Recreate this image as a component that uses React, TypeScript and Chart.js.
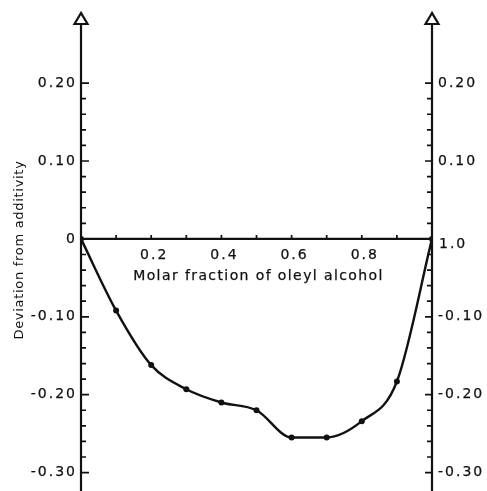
import React, { useEffect, useRef } from "react";
import { Chart, registerables } from "chart.js";

Chart.register(...registerables);

// Molar fraction of oleyl alcohol and the measured deviation from additivity
const molarFraction = [0, 0.1, 0.2, 0.3, 0.4, 0.5, 0.6, 0.7, 0.8, 0.9, 1.0];
const deviation = [0, -0.092, -0.162, -0.193, -0.21, -0.22, -0.255, -0.255, -0.234, -0.183, 0];

// Axis tick labels
const yTickValues = [0.2, 0.1, 0, -0.1, -0.2, -0.3];
const yTickLabelsLeft = ["0.20", "0.10", "0", "-0.10", "-0.20", "-0.30"];
const yTickLabelsRight = ["0.20", "0.10", "", "-0.10", "-0.20", "-0.30"];
const xTickValues = [0.2, 0.4, 0.6, 0.8];
const xTickLabels = ["0.2", "0.4", "0.6", "0.8"];
const xEndLabel = "1.0";

const xTitle = "Molar fraction of oleyl alcohol";
const yTitle = "Deviation from additivity";

const INK = "#111111";
const FONT = "'DejaVu Sans', sans-serif";

// filled text with a hairline outline so the lettering reads a little heavier
function heavyText(ctx: CanvasRenderingContext2D, text: string, x: number, y: number) {
  ctx.fillText(text, x, y);
  ctx.strokeText(text, x, y);
}

const axesPlugin = {
  id: "framedAxes",
  beforeDatasetsDraw(chart: any) {
    const { ctx, chartArea, scales } = chart;
    const xs = scales.x;
    const ys = scales.y;
    const left = xs.getPixelForValue(0);
    const right = xs.getPixelForValue(1);
    const zero = ys.getPixelForValue(0);
    const tipY = chartArea.top;
    const baseY = tipY + 11;
    const bottom = chart.height;

    ctx.save();
    ctx.strokeStyle = INK;
    ctx.fillStyle = INK;
    ctx.lineWidth = 2.2;
    ctx.lineCap = "butt";

    // vertical axes and horizontal axis
    ctx.beginPath();
    ctx.moveTo(left, baseY);
    ctx.lineTo(left, bottom);
    ctx.moveTo(right, baseY);
    ctx.lineTo(right, bottom);
    ctx.moveTo(left, zero);
    ctx.lineTo(right, zero);
    ctx.stroke();

    // open arrow heads
    for (const ax of [left, right]) {
      ctx.beginPath();
      ctx.moveTo(ax, tipY);
      ctx.lineTo(ax - 6.5, baseY);
      ctx.lineTo(ax + 6.5, baseY);
      ctx.closePath();
      ctx.fillStyle = "#ffffff";
      ctx.fill();
      ctx.stroke();
    }
    ctx.fillStyle = INK;

    // y tick marks every 0.02, pointing inward
    ctx.lineWidth = 1.7;
    ctx.beginPath();
    for (let k = -15; k <= 10; k++) {
      if (k === 0) continue;
      const v = k * 0.02;
      const py = ys.getPixelForValue(v);
      const major = k % 5 === 0;
      ctx.moveTo(left, py);
      ctx.lineTo(left + (major ? 8 : 5), py);
      ctx.moveTo(right, py);
      ctx.lineTo(right - (major ? 7 : 5), py);
    }
    // x tick marks every 0.1, pointing up
    for (let k = 1; k <= 9; k++) {
      const px = xs.getPixelForValue(k / 10);
      ctx.moveTo(px, zero);
      ctx.lineTo(px, zero - 4);
    }
    ctx.stroke();

    ctx.lineWidth = 0.25;

    // y tick labels
    ctx.font = `14px ${FONT}`;
    (ctx as any).letterSpacing = "2px";
    ctx.textBaseline = "middle";
    yTickValues.forEach((v, i) => {
      const py = ys.getPixelForValue(v);
      ctx.textAlign = "right";
      heavyText(ctx, yTickLabelsLeft[i], left - 4, py);
      if (yTickLabelsRight[i]) {
        ctx.textAlign = "left";
        heavyText(ctx, yTickLabelsRight[i], right + 6, py);
      }
    });
    ctx.textAlign = "left";
    heavyText(ctx, xEndLabel, right + 7, zero + 5);

    // x tick labels
    ctx.textAlign = "center";
    xTickValues.forEach((v, i) => {
      heavyText(ctx, xTickLabels[i], xs.getPixelForValue(v) + 3, zero + 16);
    });

    // x title
    (ctx as any).letterSpacing = "1.4px";
    heavyText(ctx, xTitle, (left + right) / 2 + 2, zero + 37);

    // y title
    (ctx as any).letterSpacing = "0.7px";
    ctx.font = `13px ${FONT}`;
    ctx.translate(20, 250);
    ctx.rotate(-Math.PI / 2);
    ctx.textAlign = "center";
    ctx.fillText(yTitle, 0, 0);
    ctx.restore();
  },
};

export default function App() {
  const canvasRef = useRef<HTMLCanvasElement | null>(null);

  useEffect(() => {
    const canvas = canvasRef.current;
    if (!canvas) return;
    const chart = new Chart(canvas, {
      type: "line",
      data: {
        datasets: [
          {
            data: molarFraction.map((x, i) => ({ x, y: deviation[i] })),
            borderColor: INK,
            borderWidth: 2.4,
            backgroundColor: INK,
            pointRadius: 3,
            pointBorderWidth: 0,
            pointBackgroundColor: INK,
            cubicInterpolationMode: "monotone",
            fill: false,
          },
        ],
      },
      options: {
        responsive: false,
        animation: false,
        devicePixelRatio: 1,
        layout: { padding: { left: 81, right: 55, top: 13, bottom: 0 } },
        plugins: { legend: { display: false }, tooltip: { enabled: false } },
        scales: {
          x: { type: "linear", min: 0, max: 1, display: false },
          y: { type: "linear", min: -0.3185, max: 0.29, display: false },
        },
      },
      plugins: [axesPlugin],
    });
    return () => chart.destroy();
  }, []);

  return (
    <div style={{ position: "absolute", left: 0, top: 0, width: 487, height: 491, background: "#ffffff" }}>
      <canvas ref={canvasRef} width={487} height={491} style={{ display: "block" }} />
    </div>
  );
}
